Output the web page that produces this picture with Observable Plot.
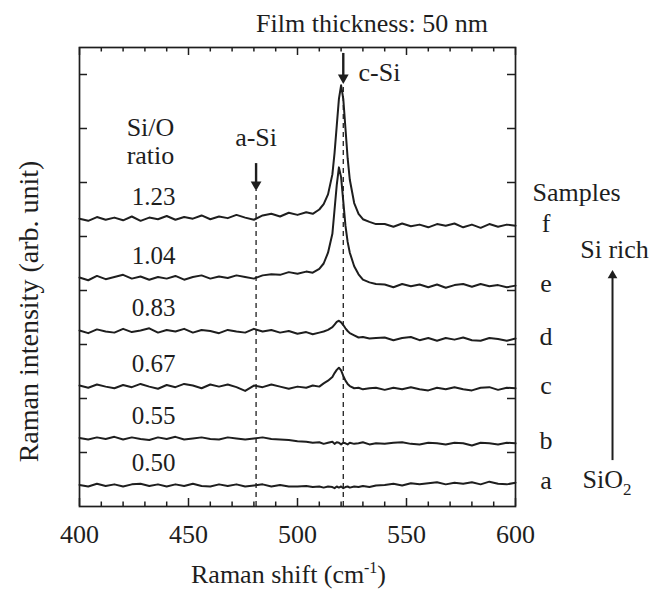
<!DOCTYPE html>
<html><head><meta charset="utf-8">
<script src="https://cdn.jsdelivr.net/npm/d3@7"></script>
<script src="https://cdn.jsdelivr.net/npm/@observablehq/plot@0.6"></script>
<style>body{margin:0;background:#fff;} #chart svg{display:block;}</style>
</head><body><div id="chart"></div>
<script>
// Raman shift sampling (cm^-1)
const ramanShift = [400,404,408,412,416,420,424,428,432,436,440,444,448,452,456,460,464,468,472,476,480,484,488,492,496,500,
  504,507,510,512,514,516,517,518,519,520,521,522,523,524,526,528,530,533,536,
  540,544,548,552,556,560,564,568,572,576,580,584,588,592,596,600];

// Offset Raman intensities (arb. unit)
const sampleA = [0.40,0.37,0.42,0.38,0.41,0.37,0.41,0.42,0.38,0.41,0.37,0.41,0.38,0.42,0.38,0.37,0.41,0.38,0.41,0.37,0.39,0.41,0.37,0.40,0.37,0.37,
  0.38,0.36,0.37,0.35,0.37,0.36,0.34,0.37,0.35,0.37,0.34,0.36,0.37,0.35,0.37,0.36,0.38,0.36,0.39,
  0.40,0.42,0.39,0.43,0.41,0.43,0.45,0.41,0.44,0.42,0.45,0.41,0.46,0.42,0.41,0.44];
const sampleB = [1.27,1.24,1.28,1.25,1.29,1.24,1.28,1.25,1.23,1.28,1.25,1.29,1.24,1.26,1.28,1.25,1.24,1.28,1.26,1.24,1.26,1.28,1.25,1.24,1.23,1.21,
  1.20,1.18,1.19,1.16,1.18,1.20,1.16,1.19,1.18,1.15,1.18,1.17,1.15,1.18,1.16,1.17,1.19,1.15,1.17,
  1.16,1.18,1.19,1.16,1.15,1.18,1.17,1.15,1.18,1.17,1.13,1.18,1.17,1.15,1.18,1.17];
const sampleC = [2.24,2.20,2.26,2.22,2.19,2.25,2.21,2.27,2.22,2.18,2.25,2.21,2.27,2.24,2.19,2.26,2.22,2.26,2.21,2.14,2.24,2.21,2.26,2.22,2.18,2.22,
  2.20,2.24,2.22,2.28,2.33,2.40,2.47,2.53,2.57,2.52,2.42,2.33,2.27,2.23,2.19,2.20,2.17,2.19,2.20,
  2.16,2.20,2.17,2.21,2.17,2.15,2.20,2.17,2.21,2.17,2.15,2.20,2.21,2.16,2.20,2.19];
const sampleD = [3.26,3.21,3.28,3.24,3.22,3.29,3.23,3.26,3.30,3.22,3.27,3.24,3.29,3.22,3.27,3.25,3.21,3.27,3.24,3.22,3.29,3.24,3.27,3.22,3.25,3.20,
  3.23,3.19,3.22,3.24,3.27,3.32,3.37,3.42,3.44,3.41,3.36,3.30,3.25,3.21,3.17,3.13,3.14,3.11,3.12,
  3.13,3.08,3.12,3.14,3.08,3.12,3.07,3.12,3.09,3.13,3.08,3.07,3.12,3.10,3.07,3.11];
const sampleE = [4.24,4.19,4.27,4.21,4.25,4.29,4.22,4.26,4.20,4.25,4.22,4.27,4.20,4.25,4.28,4.22,4.26,4.23,4.28,4.25,4.22,4.28,4.30,4.29,4.34,4.31,
  4.35,4.33,4.40,4.50,4.70,5.05,5.50,5.95,6.28,6.10,5.65,5.20,4.90,4.70,4.45,4.30,4.20,4.15,4.12,
  4.11,4.06,4.12,4.08,4.11,4.06,4.11,4.05,4.10,4.12,4.07,4.12,4.08,4.10,4.06,4.09];
const sampleF = [5.33,5.29,5.36,5.31,5.35,5.30,5.37,5.29,5.35,5.32,5.38,5.31,5.36,5.33,5.39,5.32,5.37,5.34,5.40,5.35,5.31,5.39,5.42,5.37,5.44,5.40,
  5.45,5.42,5.50,5.60,5.78,6.15,6.55,7.05,7.55,7.80,7.55,7.00,6.45,6.05,5.62,5.42,5.32,5.27,5.23,
  5.23,5.18,5.24,5.19,5.22,5.17,5.23,5.20,5.24,5.17,5.22,5.16,5.23,5.18,5.22,5.20];

const samples = ["a","b","c","d","e","f"];
const siORatios = ["0.50","0.55","0.67","0.83","1.04","1.23"];
const xTicks = [400,450,500,550,600];
const xMinorTicks = [410,420,430,440,460,470,480,490,510,520,530,540,560,570,580,590];
const yTicks = [1,2,3,4,5,6,7,8];
const aSiShift = 481, cSiShift = 521;

const intensities = [sampleA, sampleB, sampleC, sampleD, sampleE, sampleF];
const rows = samples.flatMap((s, i) => ramanShift.map((x, j) => ({x, y: intensities[i][j], sample: s})));
const starts = samples.map((s, i) => ({ratio: siORatios[i], y: intensities[i][0]}));
const ends = samples.map((s, i) => ({sample: s, y: intensities[i][intensities[i].length - 1]}));

const W = 665, H = 593, mL = 79, mR = 150, mT = 47, mB = 87;
const yMax = 8.5;
const pxX = 200 / (W - mL - mR);
const pxY = yMax / (H - mT - mB);
const ink = "#1e1e1e";
const font = "'Liberation Serif', 'Times New Roman', serif";

// annotation geometry (data units)
const aSiArrow = {top: 6.35, tip: 5.85};
const cSiArrow = {top: 8.39, tip: 7.83};
const richArrow = {x: 644.5, bottom: 0.85, tip: 4.37};

const plot = Plot.plot({
  width: W, height: H,
  marginLeft: mL, marginRight: mR, marginTop: mT, marginBottom: mB,
  x: {domain: [400, 600], axis: null},
  y: {domain: [0, yMax], axis: null},
  style: {fontFamily: font, fontSize: "26px", color: ink, background: "#fff"},
  marks: [
    // dashed reference lines
    Plot.ruleX([aSiShift], {y1: 0, y2: aSiArrow.tip, stroke: ink, strokeWidth: 1.3, strokeDasharray: "5,4"}),
    Plot.ruleX([cSiShift], {y1: 0, y2: cSiArrow.tip, stroke: ink, strokeWidth: 1.3, strokeDasharray: "5,4"}),
    // spectra
    Plot.line(rows, {x: "x", y: "y", z: "sample", stroke: ink, strokeWidth: 2, strokeLinejoin: "round"}),
    // ticks (inward)
    Plot.ruleX(xTicks, {y1: 0, y2: 8 * pxY, stroke: ink, strokeWidth: 1.5}),
    Plot.ruleX(xMinorTicks, {y1: 0, y2: 4.5 * pxY, stroke: ink, strokeWidth: 1.5}),
    Plot.ruleX(xTicks, {y1: yMax - 8 * pxY, y2: yMax, stroke: ink, strokeWidth: 1.5}),
    Plot.ruleX(xMinorTicks, {y1: yMax - 4.5 * pxY, y2: yMax, stroke: ink, strokeWidth: 1.5}),
    Plot.ruleY(yTicks, {x1: 400, x2: 400 + 8 * pxX, stroke: ink, strokeWidth: 1.5}),
    Plot.ruleY(yTicks, {x1: 600 - 8 * pxX, x2: 600, stroke: ink, strokeWidth: 1.5}),
    Plot.frame({stroke: ink, strokeWidth: 1.7}),
    // arrows
    Plot.ruleX([aSiShift], {y1: aSiArrow.top, y2: aSiArrow.tip + 6 * pxY, stroke: ink, strokeWidth: 2.4}),
    Plot.dot([aSiShift], {x: d => d, y: aSiArrow.tip, dy: -6, symbol: "triangle", rotate: 180, r: 4, fill: ink, stroke: "none"}),
    Plot.ruleX([cSiShift], {y1: cSiArrow.top, y2: cSiArrow.tip + 6 * pxY, stroke: ink, strokeWidth: 2.4}),
    Plot.dot([cSiShift], {x: d => d, y: cSiArrow.tip, dy: -6, symbol: "triangle", rotate: 180, r: 4, fill: ink, stroke: "none"}),
    Plot.ruleX([richArrow.x], {y1: richArrow.bottom, y2: richArrow.tip - 6 * pxY, stroke: ink, strokeWidth: 2}),
    Plot.dot([richArrow.x], {x: d => d, y: richArrow.tip, dy: 5, symbol: "triangle", r: 3.6, fill: ink, stroke: "none"}),
    // tick labels
    Plot.text(xTicks, {x: d => d, frameAnchor: "bottom", dy: 36, lineAnchor: "bottom", fill: ink, fontSize: 26}),
    // axis titles
    Plot.text(["Raman shift (cm"], {frameAnchor: "bottom-left", dx: 111.5, dy: 76, textAnchor: "start", lineAnchor: "bottom", fill: ink, fontSize: 26}),
    Plot.text(["-1"], {frameAnchor: "bottom-left", dx: 284.5, dy: 66, textAnchor: "start", lineAnchor: "bottom", fill: ink, fontSize: 16}),
    Plot.text([")"], {frameAnchor: "bottom-left", dx: 297.8, dy: 76, textAnchor: "start", lineAnchor: "bottom", fill: ink, fontSize: 26}),
    Plot.text(["Raman intensity (arb. unit)"], {frameAnchor: "left", dx: -50.5, dy: 34.5, rotate: -90, textAnchor: "middle", lineAnchor: "middle", fill: ink, fontSize: 28}),
    Plot.text(["Film thickness: 50 nm"], {frameAnchor: "top", dx: 74.5, dy: -16, textAnchor: "middle", lineAnchor: "bottom", fill: ink, fontSize: 26}),
    // left labels
    Plot.text(["Si/O"], {frameAnchor: "top-left", dx: 71, dy: 88, textAnchor: "middle", lineAnchor: "bottom", fill: ink, fontSize: 26}),
    Plot.text(["ratio"], {frameAnchor: "top-left", dx: 71, dy: 116, textAnchor: "middle", lineAnchor: "bottom", fill: ink, fontSize: 26}),
    Plot.text(starts, {x: 434, y: "y", text: "ratio", dy: -14, textAnchor: "middle", lineAnchor: "bottom", fill: ink, fontSize: 25}),
    // peak labels
    Plot.text(["a-Si"], {x: aSiShift, frameAnchor: "top", dy: 98, textAnchor: "middle", lineAnchor: "bottom", fill: ink, fontSize: 26}),
    Plot.text(["c-Si"], {x: 528, frameAnchor: "top", dy: 33, textAnchor: "start", lineAnchor: "bottom", fill: ink, fontSize: 26}),
    // right labels
    Plot.text(["Samples"], {frameAnchor: "top-right", dx: 61, dy: 153, textAnchor: "middle", lineAnchor: "bottom", fill: ink, fontSize: 26}),
    Plot.text(ends, {x: 614, y: "y", text: "sample", dy: 6, textAnchor: "middle", lineAnchor: "bottom", fill: ink, fontSize: 26}),
    Plot.text(["Si rich"], {frameAnchor: "top-right", dx: 99, dy: 210, textAnchor: "middle", lineAnchor: "bottom", fill: ink, fontSize: 26}),
    Plot.text(["SiO"], {frameAnchor: "bottom-right", dx: 67, dy: -19, textAnchor: "start", lineAnchor: "bottom", fill: ink, fontSize: 26}),
    Plot.text(["2"], {frameAnchor: "bottom-right", dx: 107.5, dy: -12, textAnchor: "start", lineAnchor: "bottom", fill: ink, fontSize: 17})
  ]
});
document.getElementById("chart").append(plot);
</script>
</body></html>
